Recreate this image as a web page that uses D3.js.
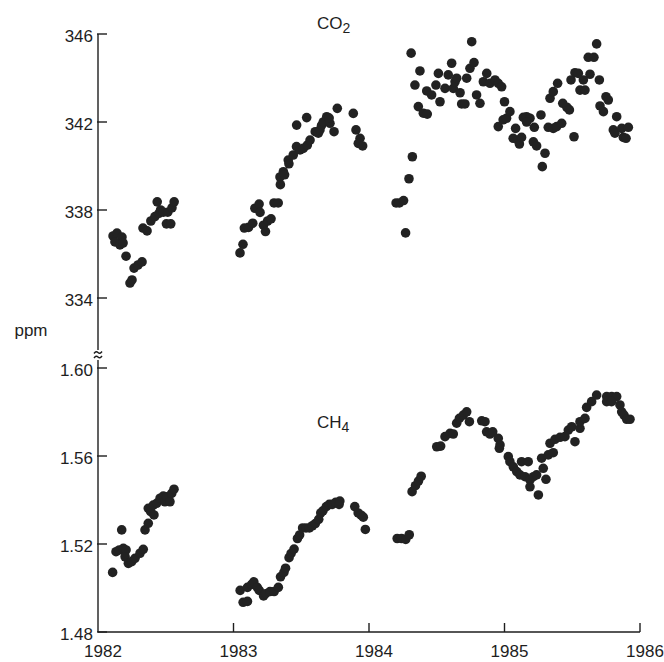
<!DOCTYPE html>
<html><head><meta charset="utf-8">
<script src="https://cdn.jsdelivr.net/npm/d3@7"></script>
<style>
html,body{margin:0;padding:0;background:#fff;}
svg{display:block;}
text{font-family:"Liberation Sans",Arial,sans-serif;fill:#1e1e1e;}
</style></head>
<body>
<script>
// ---- data ----
const xTicks = [1982, 1983, 1984, 1985, 1986];
const co2Ticks = [334, 338, 342, 346];
const ch4Ticks = [1.48, 1.52, 1.56, 1.60];

const co2Data = [
 [1982.111,336.82],[1982.140,336.95],[1982.177,336.77],[1982.125,336.55],[1982.162,336.41],[1982.185,336.5],
 [1982.207,335.9],[1982.236,334.68],[1982.251,334.82],[1982.266,335.36],[1982.295,335.5],[1982.325,335.64],
 [1982.332,337.18],[1982.362,337.05],[1982.39,337.5],[1982.42,337.7],[1982.437,338.37],[1982.45,337.85],
 [1982.462,338.0],[1982.483,337.9],[1982.515,337.9],[1982.505,337.37],[1982.537,337.37],[1982.546,338.1],[1982.562,338.37],
 [1983.048,336.05],[1983.070,336.44],[1983.080,337.18],[1983.111,337.21],[1983.142,337.4],[1983.158,338.08],
 [1983.189,338.27],[1983.196,337.89],[1983.221,337.31],[1983.236,337.02],[1983.252,337.5],[1983.277,337.6],
 [1983.299,338.32],[1983.330,338.32],[1983.343,339.5],[1983.368,339.74],[1983.346,339.15],[1983.377,339.6],
 [1983.404,340.27],[1983.409,340.1],[1983.441,340.5],[1983.465,340.88],[1983.466,341.86],[1983.491,340.73],
 [1983.515,340.8],[1983.540,342.2],[1983.545,340.95],[1983.565,341.18],[1983.603,341.56],[1983.626,341.49],
 [1983.638,341.64],[1983.650,341.85],[1983.663,342.0],[1983.688,342.24],[1983.712,341.94],[1983.706,342.18],
 [1983.742,341.56],[1983.766,342.62],[1983.884,342.39],[1983.904,341.64],[1983.934,341.26],[1983.921,341.03],[1983.953,340.91],
 [1984.20,338.32],[1984.224,338.32],[1984.255,338.43],[1984.27,336.96],[1984.295,339.42],[1984.32,340.42],
 [1984.311,345.13],[1984.339,343.68],[1984.364,342.7],[1984.376,344.32],[1984.401,342.4],[1984.430,342.36],
 [1984.426,343.41],[1984.462,343.23],[1984.494,343.68],[1984.512,344.21],[1984.524,342.92],[1984.561,343.53],
 [1984.585,344.14],[1984.61,344.67],[1984.622,343.53],[1984.635,343.83],[1984.647,343.99],[1984.672,343.33],
 [1984.684,342.82],[1984.708,342.82],[1984.721,343.99],[1984.745,344.44],[1984.758,345.65],[1984.775,344.7],
 [1984.794,343.23],[1984.819,342.85],[1984.844,343.83],[1984.869,344.21],[1984.893,343.76],[1984.93,343.91],
 [1984.954,343.76],[1984.979,343.6],[1984.954,341.79],[1984.99,342.1],[1985.0,342.92],[1985.015,342.17],
 [1985.04,342.47],[1985.064,341.26],[1985.082,341.71],[1985.1,341.18],[1985.11,341.0],[1985.126,341.3],
 [1985.139,342.21],[1985.163,342.24],[1985.188,342.17],[1985.163,342.0],[1985.213,341.1],[1985.22,341.76],
 [1985.237,340.91],[1985.269,342.32],[1985.279,339.97],[1985.299,340.58],[1985.323,341.76],[1985.336,343.08],
 [1985.36,343.38],[1985.36,341.71],[1985.385,341.79],[1985.392,343.76],[1985.422,341.94],[1985.43,342.85],
 [1985.46,342.67],[1985.479,342.55],[1985.491,343.91],[1985.513,341.33],[1985.52,344.24],[1985.545,344.21],
 [1985.557,343.45],[1985.582,343.91],[1985.594,343.45],[1985.618,344.94],[1985.631,344.17],[1985.66,344.94],
 [1985.68,345.55],[1985.70,343.91],[1985.705,342.73],[1985.73,342.47],[1985.749,343.15],[1985.766,343.0],
 [1985.803,341.64],[1985.815,341.49],[1985.828,342.24],[1985.865,341.71],[1985.877,341.3],[1985.897,341.26],[1985.914,341.76]
];

const ch4Data = [
 [1982.108,1.5071],[1982.133,1.5165],[1982.157,1.5173],[1982.175,1.5264],[1982.187,1.5180],[1982.207,1.5173],
 [1982.2,1.5142],[1982.224,1.5112],[1982.249,1.5120],[1982.273,1.5135],[1982.31,1.5158],[1982.334,1.5176],
 [1982.347,1.5264],[1982.371,1.5294],[1982.371,1.5362],[1982.389,1.5347],[1982.408,1.5377],[1982.413,1.5332],
 [1982.433,1.5385],[1982.458,1.5408],[1982.482,1.5418],[1982.494,1.5392],[1982.507,1.5415],[1982.531,1.5392],
 [1982.544,1.5430],[1982.561,1.5449],
 [1983.049,1.4989],[1983.071,1.4935],[1983.103,1.4939],[1983.103,1.5003],[1983.134,1.5016],[1983.150,1.5028],
 [1983.175,1.5003],[1983.19,1.4989],[1983.222,1.4964],[1983.237,1.4974],[1983.269,1.4984],[1983.30,1.4984],
 [1983.331,1.5003],[1983.347,1.5051],[1983.372,1.5071],[1983.384,1.509],[1983.41,1.5138],[1983.425,1.5157],
 [1983.447,1.5177],[1983.472,1.5225],[1983.488,1.5241],[1983.51,1.5273],[1983.535,1.5273],[1983.56,1.5273],
 [1983.582,1.5283],[1983.604,1.5293],[1983.629,1.5312],[1983.644,1.5341],[1983.66,1.5351],[1983.685,1.537],
 [1983.707,1.538],[1983.729,1.538],[1983.754,1.5389],[1983.779,1.538],[1983.785,1.5395],[1983.895,1.537],
 [1983.92,1.5341],[1983.942,1.5331],[1983.958,1.5322],[1983.973,1.5266],
 [1984.208,1.5225],[1984.24,1.5225],[1984.271,1.5221],[1984.297,1.5242],[1984.318,1.5438],[1984.343,1.5465],
 [1984.365,1.5486],[1984.385,1.5508],
 [1984.50,1.5642],[1984.529,1.5645],[1984.561,1.5688],[1984.598,1.5703],[1984.622,1.57],[1984.647,1.5749],
 [1984.667,1.5771],[1984.696,1.5786],[1984.721,1.5801],[1984.741,1.5756],[1984.832,1.576],[1984.856,1.5756],
 [1984.868,1.571],[1984.893,1.57],[1984.913,1.571],[1984.954,1.568],[1984.967,1.565],[1984.962,1.5635],
 [1985.028,1.5597],[1985.04,1.5574],[1985.065,1.5551],[1985.09,1.5529],[1985.114,1.5514],[1985.151,1.5506],
 [1985.126,1.5574],[1985.175,1.5574],[1985.188,1.5491],[1985.213,1.5506],[1985.237,1.5514],[1985.188,1.546],
 [1985.25,1.5423],[1985.306,1.5494],[1985.286,1.5544],[1985.274,1.559],[1985.323,1.5605],[1985.36,1.5615],
 [1985.336,1.5658],[1985.373,1.5676],[1985.41,1.5685],[1985.446,1.5688],[1985.471,1.5718],[1985.496,1.5733],
 [1985.52,1.5665],[1985.557,1.5726],[1985.557,1.5756],[1985.594,1.5771],[1985.606,1.5821],[1985.643,1.5847],
 [1985.68,1.5877],[1985.754,1.587],[1985.791,1.587],[1985.828,1.587],[1985.754,1.5847],[1985.79,1.5847],
 [1985.852,1.5832],[1985.865,1.5801],[1985.882,1.5786],[1985.902,1.5767],[1985.926,1.5767]
];

// ---- layout ----
const W = 664, H = 662;
const svg = d3.select("body").append("svg").attr("width", W).attr("height", H);

const x = d3.scaleLinear().domain([1982, 1986]).range([98, 640]);
const yCO2 = d3.scaleLinear().domain([334, 346]).range([298, 34]);
const yCH4 = d3.scaleLinear().domain([1.48, 1.60]).range([632, 368]);

const ink = "#1e1e1e";
const axisG = svg.append("g").attr("stroke", ink).attr("stroke-width", 1.4).attr("fill", "none");

// y-axis (broken)
axisG.append("line").attr("x1", 98).attr("x2", 98).attr("y1", yCO2(346)).attr("y2", 350);
axisG.append("line").attr("x1", 98).attr("x2", 98).attr("y1", 360).attr("y2", yCH4(1.48));
// break mark
[352.5, 357].forEach(yy => {
  axisG.append("path").attr("d", `M94,${yy+1} q2,-3 4,-1 t4,-1`);
});
// x-axis
axisG.append("line").attr("x1", 98).attr("x2", 640).attr("y1", yCH4(1.48)).attr("y2", yCH4(1.48));

// y ticks (inward)
co2Ticks.forEach(v => {
  axisG.append("line").attr("x1", 97).attr("x2", 107).attr("y1", yCO2(v)).attr("y2", yCO2(v));
});
ch4Ticks.forEach(v => {
  axisG.append("line").attr("x1", 97).attr("x2", 107).attr("y1", yCH4(v)).attr("y2", yCH4(v));
});
// x ticks (inward)
xTicks.slice(1).forEach(v => {
  axisG.append("line").attr("x1", x(v)).attr("x2", x(v)).attr("y1", yCH4(1.48)).attr("y2", yCH4(1.48) - 9);
});

const fs = 17;
// tick labels
co2Ticks.forEach(v => {
  svg.append("text").attr("x", 93).attr("y", yCO2(v)).attr("dy", "0.45em")
    .attr("text-anchor", "end").attr("font-size", fs).text(d3.format("d")(v));
});
ch4Ticks.forEach(v => {
  svg.append("text").attr("x", 93).attr("y", yCH4(v)).attr("dy", "0.45em")
    .attr("text-anchor", "end").attr("font-size", fs).text(d3.format(".2f")(v));
});
xTicks.forEach(v => {
  svg.append("text").attr("x", x(v) + 5).attr("y", 657)
    .attr("text-anchor", "middle").attr("font-size", fs).text(v);
});

// axis title
svg.append("text").attr("x", 31).attr("y", 336).attr("text-anchor", "middle")
  .attr("font-size", 17).text("ppm");

// series labels
const t1 = svg.append("text").attr("x", 317).attr("y", 29).attr("font-size", 17);
t1.append("tspan").text("CO");
t1.append("tspan").attr("dy", 4).attr("font-size", 14).text("2");
const t2 = svg.append("text").attr("x", 317).attr("y", 428).attr("font-size", 17);
t2.append("tspan").text("CH");
t2.append("tspan").attr("dy", 4).attr("font-size", 14).text("4");

// points
const r = 4.8, dotFill = "#222";
svg.append("g").selectAll("circle").data(co2Data).join("circle")
  .attr("cx", d => x(d[0])).attr("cy", d => yCO2(d[1])).attr("r", r).attr("fill", dotFill);
svg.append("g").selectAll("circle").data(ch4Data).join("circle")
  .attr("cx", d => x(d[0])).attr("cy", d => yCH4(d[1])).attr("r", r).attr("fill", dotFill);
</script>
</body></html>
